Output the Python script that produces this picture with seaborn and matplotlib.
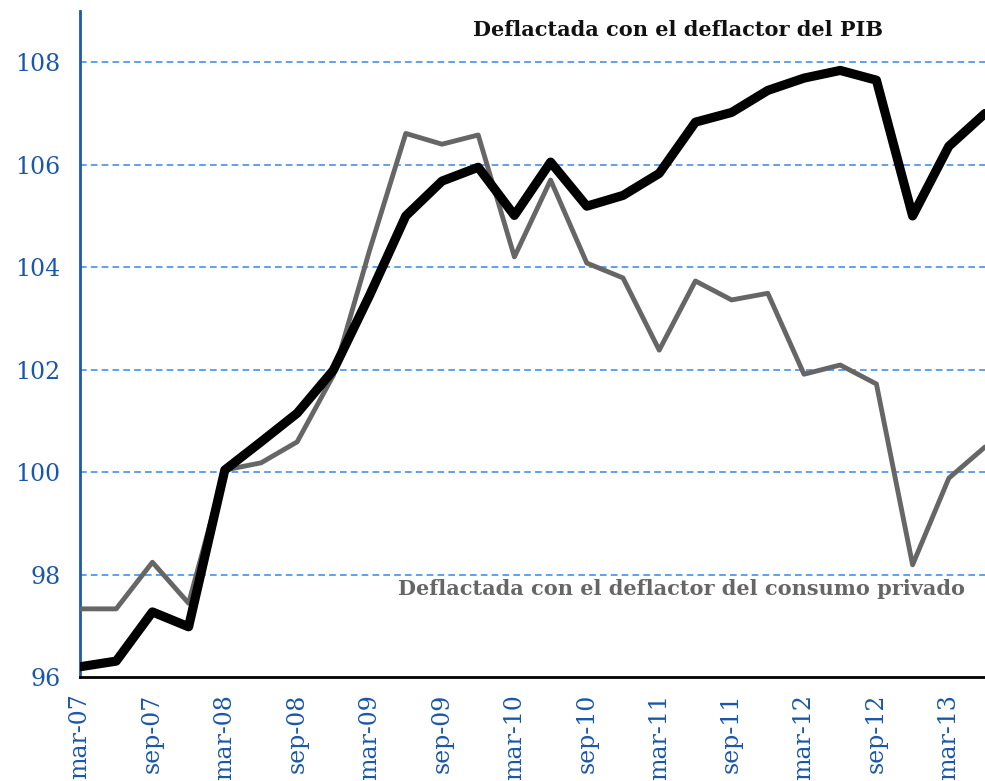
import matplotlib
matplotlib.use("Agg")
import matplotlib.pyplot as plt
import seaborn as sns
import pandas as pd
import numpy as np

quarters = ["mar-07", "jun-07", "sep-07", "dic-07", "mar-08", "jun-08", "sep-08", "dic-08",
            "mar-09", "jun-09", "sep-09", "dic-09", "mar-10", "jun-10", "sep-10", "dic-10",
            "mar-11", "jun-11", "sep-11", "dic-11", "mar-12", "jun-12", "sep-12", "dic-12",
            "mar-13", "jun-13"]

pib = [96.20, 96.31, 97.27, 96.98, 100.04, 100.59, 101.15, 101.99,
       103.45, 105.00, 105.68, 105.95, 105.01, 106.05, 105.19, 105.40,
       105.83, 106.83, 107.02, 107.45, 107.69, 107.84, 107.65, 105.00,
       106.36, 107.00]

consumo = [97.33, 97.33, 98.24, 97.44, 100.04, 100.18, 100.59, 101.89,
           104.33, 106.61, 106.40, 106.58, 104.20, 105.70, 104.08, 103.79,
           102.38, 103.73, 103.36, 103.49, 101.91, 102.09, 101.72, 98.19,
           99.88, 100.49]

tick_labels = quarters[::2]
y_ticks = [96, 98, 100, 102, 104, 106, 108]

label_pib = "Deflactada con el deflactor del PIB"
label_consumo = "Deflactada con el deflactor del consumo privado"

sns.set_theme(style="white")
plt.rcParams['font.family'] = ['DejaVu Serif']

df = pd.DataFrame({"t": np.arange(len(quarters)), "pib": pib, "consumo": consumo})

fig = plt.figure(figsize=(9.85, 7.81), dpi=100)
ax = fig.add_axes([80/985, 104/781, 1 - 80/985, (677-11)/781])

blue_txt = "#1a57a8"
grid_col = "#4690ec"

for y in y_ticks[1:]:
    ax.axhline(y, color=grid_col, lw=1.2, ls=(0, (4, 2.5)), zorder=0)

sns.lineplot(data=df, x="t", y="consumo", ax=ax, color="#666666", lw=3.5, zorder=3)
sns.lineplot(data=df, x="t", y="pib", ax=ax, color="#000000", lw=6.6, zorder=4)

ax.set_xlim(0, len(quarters) - 1)
ax.set_ylim(96, 109)
ax.set_xticks(np.arange(0, len(quarters), 2))
ax.set_xticklabels(tick_labels, rotation=90, color=blue_txt, fontsize=17)
ax.set_yticks(y_ticks)
ax.set_yticklabels([str(v) for v in y_ticks], color=blue_txt, fontsize=17)
ax.set_xlabel("")
ax.set_ylabel("")

for s in ["top", "right"]:
    ax.spines[s].set_visible(False)
ax.spines["left"].set_color("#1f5aa8")
ax.spines["left"].set_linewidth(2)
ax.spines["bottom"].set_color("#000000")
ax.spines["bottom"].set_linewidth(2)
ax.tick_params(axis="y", direction="out", length=7, width=2, color="#1f5aa8", pad=7)
ax.tick_params(axis="x", direction="out", length=8, width=2, color="#000000", pad=4)

fig.text(473/985, 1 - 30/781, label_pib, fontsize=15, fontweight="semibold",
         color="#111111", va="center", ha="left")
fig.text(398/985, 1 - 589/781, label_consumo, fontsize=15, fontweight="semibold",
         color="#666666", va="center", ha="left")

fig.savefig("out.png", dpi=100)
